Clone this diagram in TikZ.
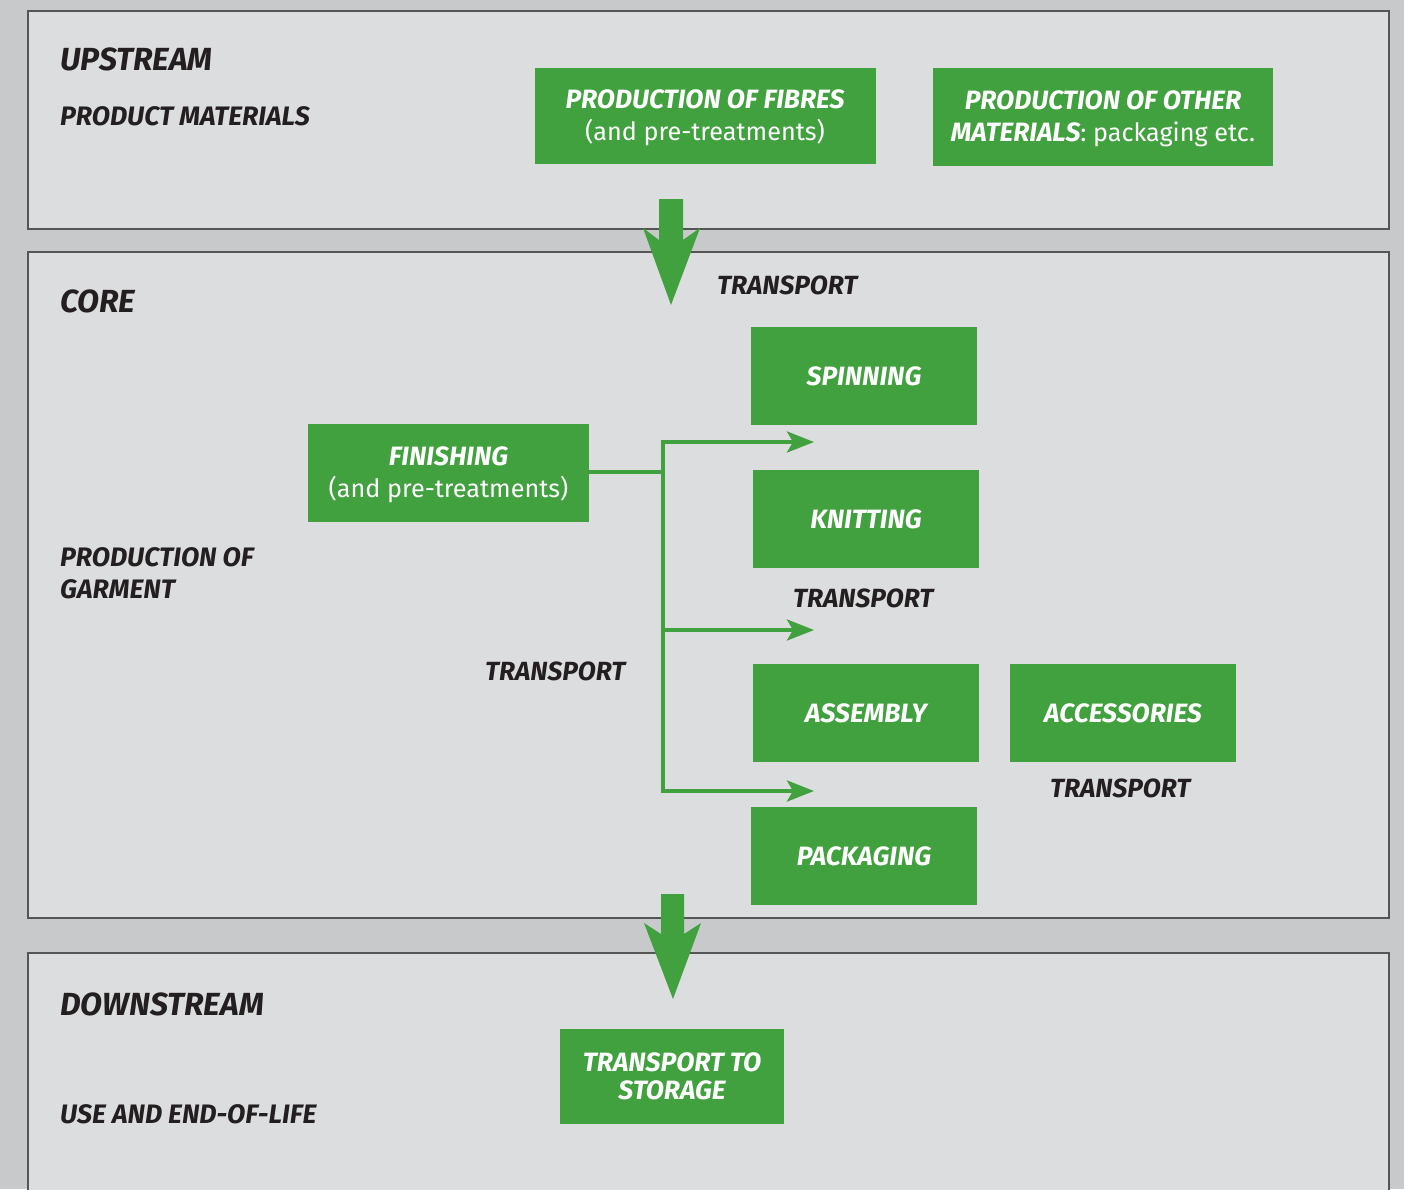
\documentclass[tikz,border=0pt]{standalone}
\usepackage{fontspec}
\setmainfont{Fira Sans}
\usetikzlibrary{arrows.meta}
\definecolor{bggray}{HTML}{C8C9CB}
\definecolor{panelgray}{HTML}{DCDDDF}
\definecolor{edgegray}{HTML}{555555}
\definecolor{grn}{HTML}{42A13F}
\definecolor{ink}{HTML}{231F20}
\tikzset{
  panel/.style={fill=panelgray, draw=edgegray, line width=1.2pt},
  gbox/.style={fill=grn, text=white, inner sep=0pt, align=center,
    font=\fontsize{26.5}{32}\selectfont},
  head/.style={anchor=base west, text=ink, inner sep=0pt,
    font=\fontsize{32}{36}\selectfont\bfseries\itshape},
  sub/.style={anchor=base west, text=ink, inner sep=0pt,
    font=\fontsize{26.7}{32}\selectfont\bfseries\itshape},
  tlabel/.style={anchor=base west, text=ink, inner sep=0pt,
    font=\fontsize{26.3}{30}\selectfont\bfseries\itshape},
  flow/.style={draw=grn, line width=4pt},
  flowarrow/.style={flow, -{Stealth[length=27pt, width=21pt, inset=6pt]}},
  bigarrow/.style={fill=grn, draw=none}
}
\newcommand{\hb}{\bfseries\itshape}
\newcommand{\lt}{\fontsize{25.2}{32}\selectfont}
\newcommand{\dn}{\rule{0pt}{23pt}}
\begin{document}
\begin{tikzpicture}[x=1pt, y=-1pt]
\useasboundingbox (0,0) rectangle (1404,1189);
\clip (0,0) rectangle (1404,1189);
\fill[bggray] (0,0) rectangle (1404,1189);
% panels
\draw[panel] (28,11) rectangle (1389,229);
\draw[panel] (28,252) rectangle (1389,918);
\fill[panelgray] (28,953) rectangle (1389,1200);
\draw[edgegray, line width=1.2pt] (28,1200) -- (28,953) -- (1389,953) -- (1389,1200);

% headings
\node[head] (up) at (60,70) {UPSTREAM};
\node[sub] (pm) at (60,125) {PRODUCT MATERIALS};
\node[head] (core) at (60,312) {CORE};
\node[sub] (pg1) at (60,566) {PRODUCTION OF};
\node[sub] (pg2) at (60,598) {GARMENT};
\node[head] (down) at (60,1015) {DOWNSTREAM};
\node[sub] (use) at (60,1123) {USE AND END-OF-LIFE};

% green boxes
\node[gbox, minimum width=341pt, minimum height=96pt] (fibres) at (705,116)
  {\dn{\hb PRODUCTION OF FIBRES}\\{\lt(and pre-treatments)}};
\node[gbox, minimum width=340pt, minimum height=98pt] (other) at (1103,117)
  {\dn{\hb PRODUCTION OF OTHER}\\{\hb MATERIALS}{\lt: packaging etc.}};
\node[gbox, minimum width=226pt, minimum height=98pt] (spin) at (864,376) {\hb SPINNING};
\node[gbox, minimum width=281pt, minimum height=98pt] (fin) at (448.5,473)
  {\dn{\hb FINISHING}\\{\lt(and pre-treatments)}};
\node[gbox, minimum width=226pt, minimum height=98pt] (knit) at (866,519) {\hb KNITTING};
\node[gbox, minimum width=226pt, minimum height=98pt] (asm) at (866,713) {\hb ASSEMBLY};
\node[gbox, minimum width=226pt, minimum height=98pt] (acc) at (1123,713) {\hb ACCESSORIES};
\node[gbox, minimum width=226pt, minimum height=98pt] (pack) at (864,856) {\hb PACKAGING};
\node[gbox, minimum width=224pt, minimum height=95pt, font=\fontsize{26.5}{28}\selectfont] (stor) at (672,1076)
  {\hb TRANSPORT TO\\\hb STORAGE};

% transport labels
\node[tlabel] (t1) at (717,294) {TRANSPORT};
\node[tlabel] (t2) at (793,607) {TRANSPORT};
\node[tlabel] (t3) at (485,680) {TRANSPORT};
\node[tlabel] (t4) at (1050,797) {TRANSPORT};

% big arrows
\fill[bigarrow] (659,199) -- (683,199) -- (683,240) -- (700,228) -- (671,305) -- (643,228) -- (659,240) -- cycle;
\fill[bigarrow] (661,894) -- (684,894) -- (684,934) -- (701,923) -- (673,999) -- (644,923) -- (661,934) -- cycle;

% branching flow
\coordinate (jf) at (663,472);
\coordinate (j1) at (663,442);
\coordinate (j2) at (663,630);
\coordinate (j3) at (663,791);
\coordinate (e1) at (814,442);
\coordinate (e2) at (814,630);
\coordinate (e3) at (814,791);
\draw[flow] (fin.east |- jf) -- (jf);
\draw[flow, line cap=rect] (j1) -- (j3);
\draw[flowarrow] ([xshift=-2pt]j1) -- (e1);
\draw[flowarrow] ([xshift=-2pt]j2) -- (e2);
\draw[flowarrow] ([xshift=-2pt]j3) -- (e3);
\end{tikzpicture}
\end{document}
